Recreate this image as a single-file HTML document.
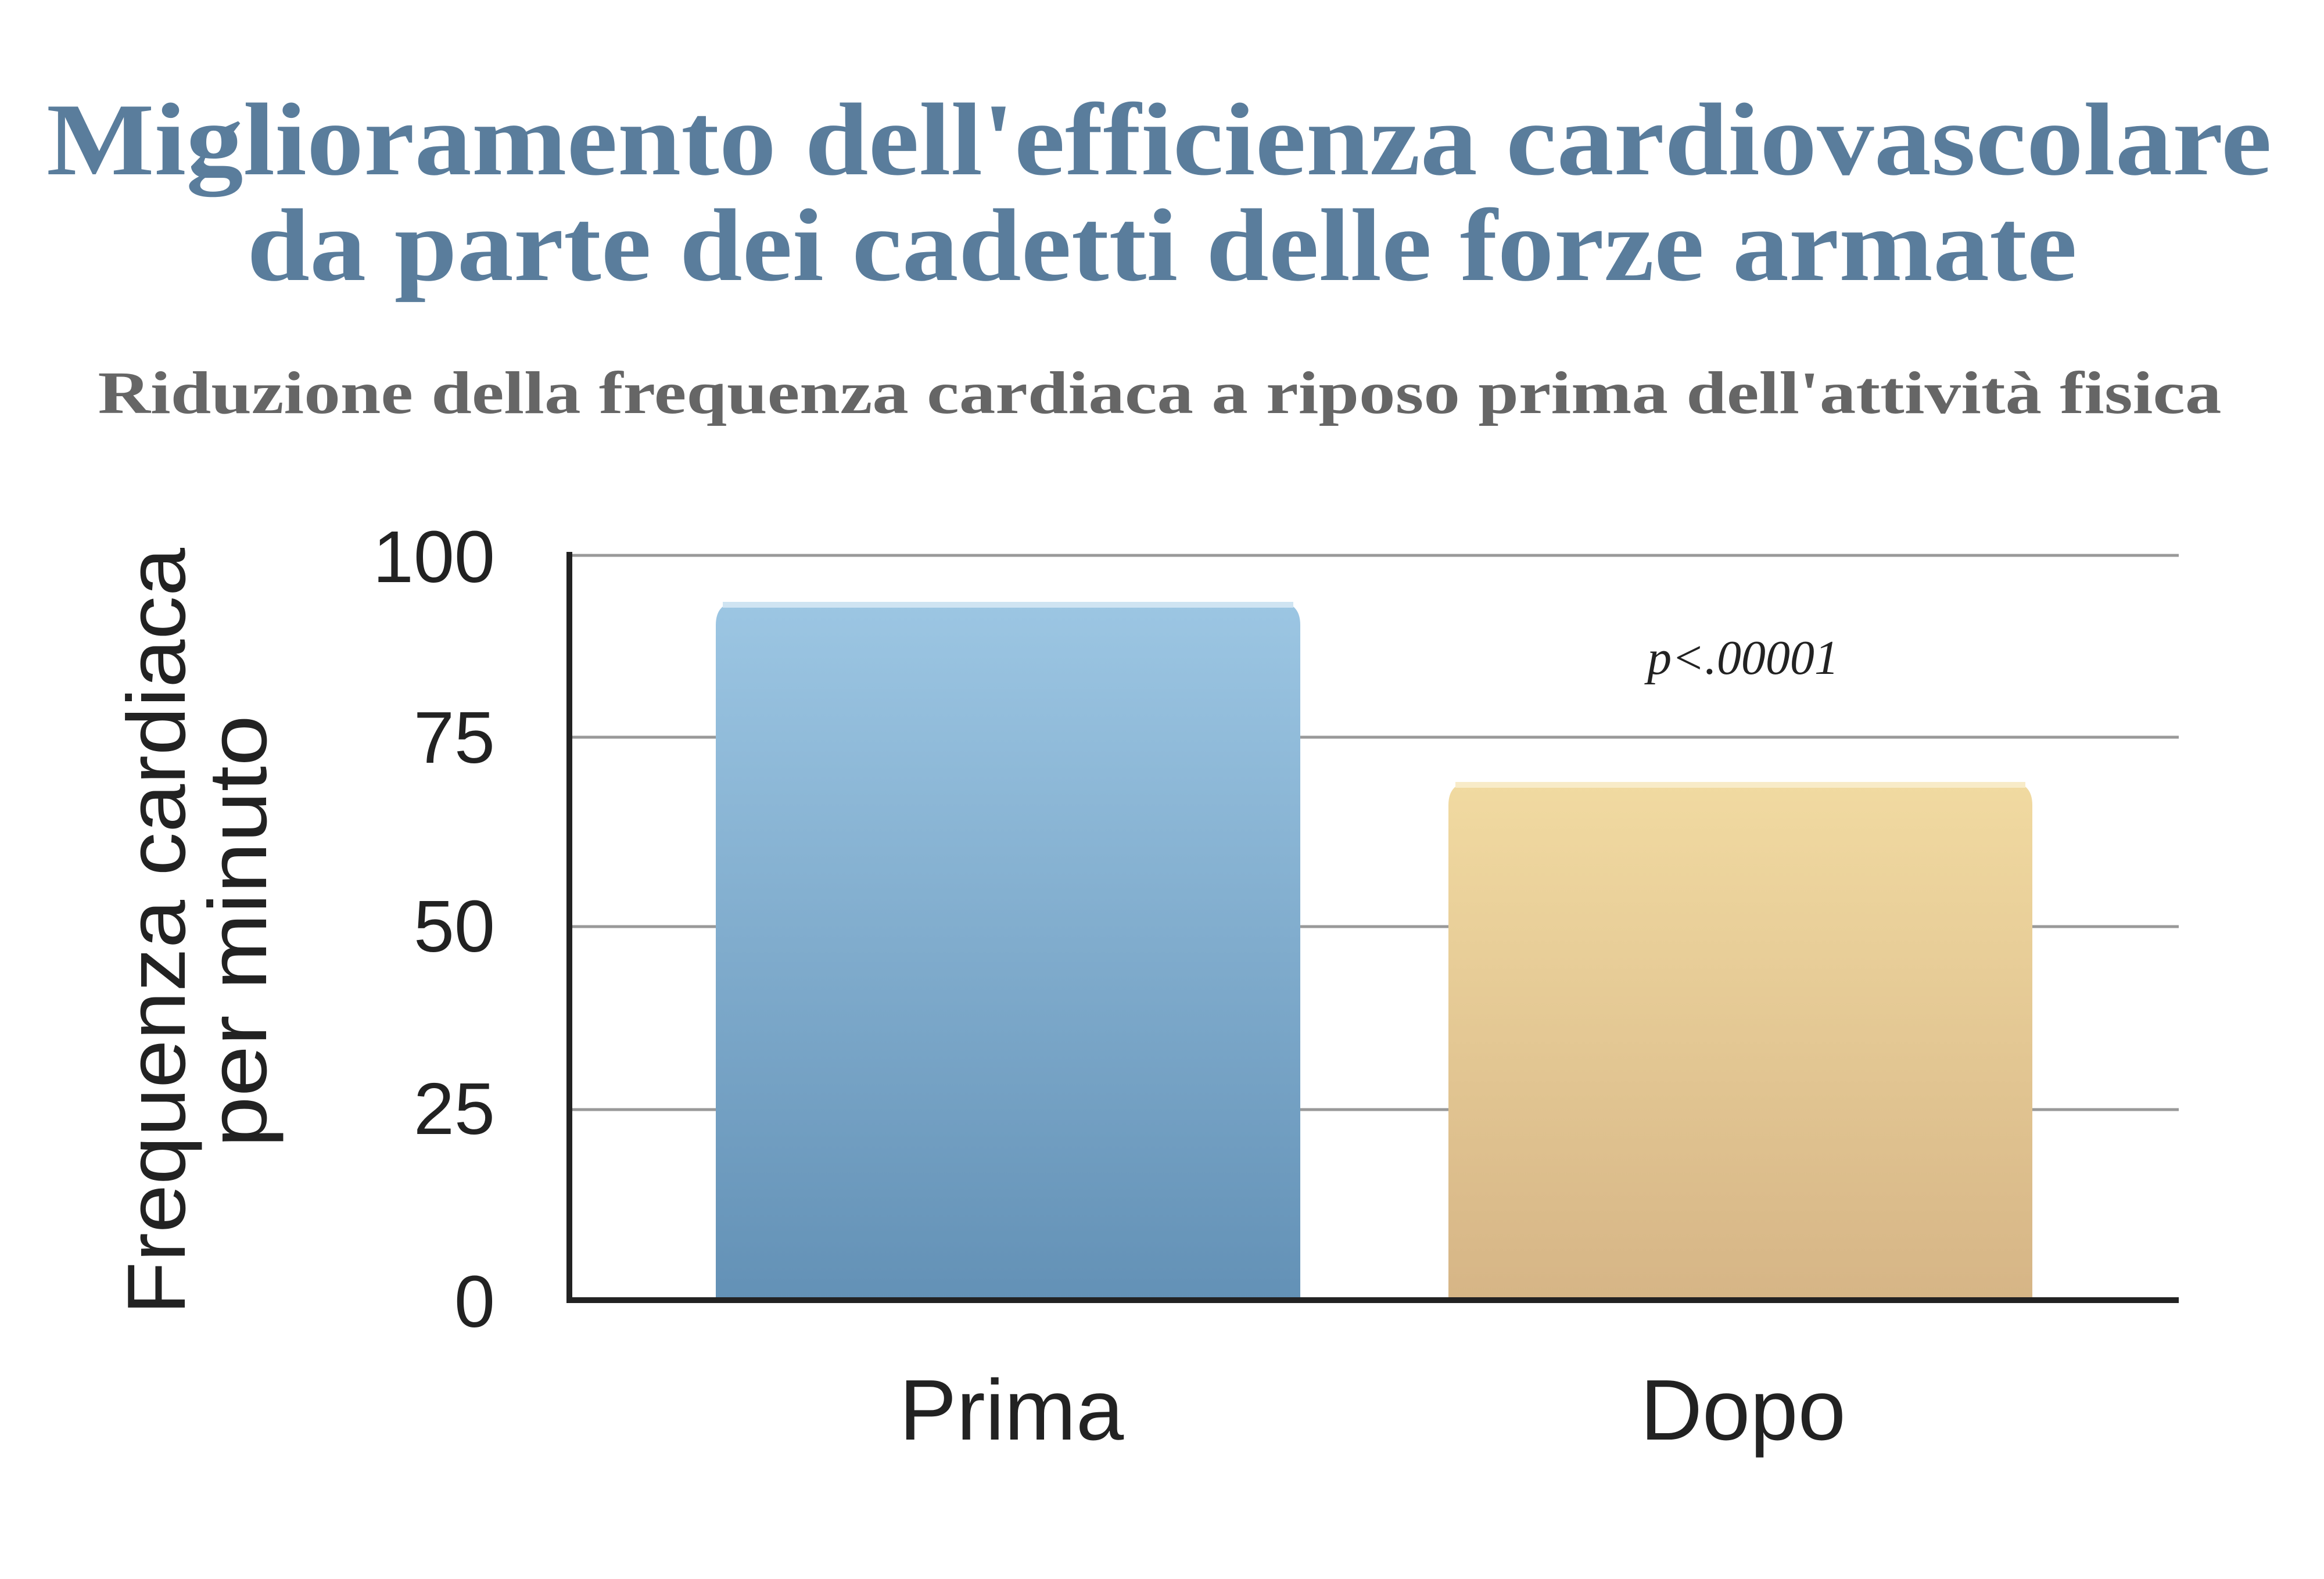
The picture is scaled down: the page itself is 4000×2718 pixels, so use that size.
<!DOCTYPE html>
<html><head><meta charset="utf-8"><style>html,body{margin:0;padding:0;background:#fff}svg{display:block}</style></head>
<body>
<svg width="4000" height="2718" viewBox="0 0 4000 2718" xmlns="http://www.w3.org/2000/svg">
<defs>
<linearGradient id="gb" x1="0" y1="0" x2="0" y2="1"><stop offset="0" stop-color="#9cc6e3"/><stop offset="1" stop-color="#6391b6"/></linearGradient>
<linearGradient id="gy" x1="0" y1="0" x2="0" y2="1"><stop offset="0" stop-color="#f1daa1"/><stop offset="1" stop-color="#d6b586"/></linearGradient>
</defs>
<rect width="4000" height="2718" fill="#fff"/>
<g font-family="Liberation Serif, serif" font-weight="bold" text-anchor="middle">
<text x="1995" y="300" font-size="178" fill="#5a7d9c" textLength="3830" lengthAdjust="spacingAndGlyphs">Miglioramento dell'efficienza cardiovascolare</text>
<text x="2000" y="482" font-size="178" fill="#5a7d9c" textLength="3150" lengthAdjust="spacingAndGlyphs">da parte dei cadetti delle forze armate</text>
<text x="1996" y="711" font-size="104" fill="#666" textLength="3655" lengthAdjust="spacingAndGlyphs">Riduzione della frequenza cardiaca a riposo prima dell'attività fisica</text>
</g>
<g stroke="#999" stroke-width="5">
<line x1="980" y1="956" x2="3750" y2="956"/>
<line x1="980" y1="1269" x2="3750" y2="1269"/>
<line x1="980" y1="1595" x2="3750" y2="1595"/>
<line x1="980" y1="1910" x2="3750" y2="1910"/>
</g>
<path d="M1232 2238 V1076 Q1232 1036 1272 1036 H2198 Q2238 1036 2238 1076 V2238 Z" fill="url(#gb)"/>
<rect x="1244" y="1036" width="982" height="10" fill="#cfe4f2"/>
<path d="M2493 2238 V1386 Q2493 1346 2533 1346 H3458 Q3498 1346 3498 1386 V2238 Z" fill="url(#gy)"/>
<rect x="2505" y="1346" width="981" height="10" fill="#f8ebc8"/>
<line x1="980" y1="950" x2="980" y2="2243" stroke="#222" stroke-width="10"/>
<line x1="975" y1="2238" x2="3750" y2="2238" stroke="#222" stroke-width="10"/>
<g font-family="Liberation Sans, sans-serif" font-size="126" fill="#222" text-anchor="end">
<text x="852" y="1002">100</text>
<text x="852" y="1313">75</text>
<text x="852" y="1638">50</text>
<text x="852" y="1952">25</text>
<text x="852" y="2284">0</text>
</g>
<text x="3000" y="1160" font-family="Liberation Serif, serif" font-style="italic" font-size="84" fill="#222" text-anchor="middle">p&lt;.00001</text>
<g font-family="Liberation Sans, sans-serif" font-size="148" fill="#222" text-anchor="middle">
<text x="1741" y="2478">Prima</text>
<text x="3000" y="2478">Dopo</text>
</g>
<g font-family="Liberation Sans, sans-serif" font-size="142" fill="#222" text-anchor="middle">
<text transform="translate(318,1603) rotate(-90)" textLength="1320" lengthAdjust="spacingAndGlyphs">Frequenza cardiaca</text>
<text transform="translate(458,1603) rotate(-90)" textLength="744" lengthAdjust="spacingAndGlyphs">per minuto</text>
</g>
</svg>
</body></html>
